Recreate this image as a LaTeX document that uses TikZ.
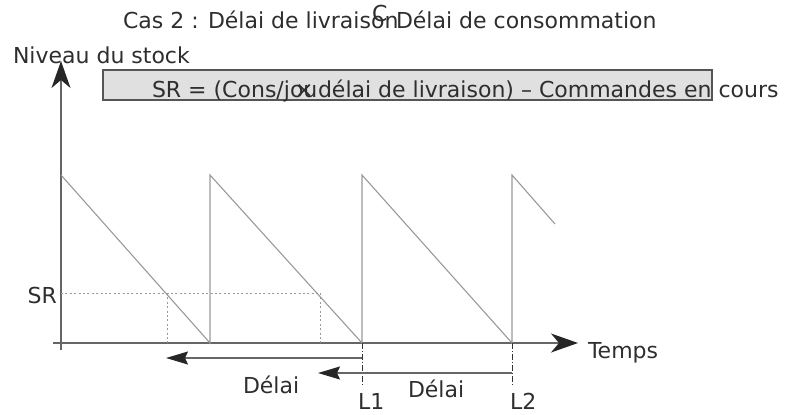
\documentclass[tikz,border=0pt]{standalone}
\usepackage{fontspec}
\setmainfont{DejaVu Sans}
\usetikzlibrary{arrows.meta}
\definecolor{txt}{HTML}{2E2E2E}
\definecolor{axis}{HTML}{666666}
\definecolor{saw}{HTML}{999999}
\definecolor{boxfill}{HTML}{E0E0E0}
\definecolor{boxline}{HTML}{555555}
\begin{document}
\begin{tikzpicture}[x=0.5pt,y=-0.5pt,
  every node/.style={inner sep=0pt,outer sep=0pt,text=txt,font=\fontsize{11}{13}\selectfont},
  lbl/.style={anchor=base west},
  axisline/.style={draw=axis,line width=0.75pt,-{Stealth[length=13.5pt,width=9.5pt,inset=4pt,fill=black!85,color=black!85]}},
  sawline/.style={draw=saw,line width=0.55pt},
  guide/.style={draw=saw,line width=0.5pt,dash pattern=on 1pt off 1.2pt},
  delaiarrow/.style={draw=axis,line width=0.75pt,-{Stealth[length=11pt,width=6.5pt,inset=1.5pt,fill=black!85,color=black!85]}},
  mark line/.style={draw=black!80,line width=0.5pt,dash pattern=on 3pt off 1pt on 0.5pt off 1pt}]
\useasboundingbox (0,0) rectangle (787,414);
% title
\node[lbl] (t1) at (123,28) {Cas 2 : Délai de livraison};
\node[lbl] (t2) at (396,28) {Délai de consommation};
\node[lbl] (t3) at (372,21) {C};
% y-axis label
\node[lbl] (ylab) at (13,63) {Niveau du stock};
% formula box
\node[draw=boxline,fill=boxfill,line width=1pt,minimum width=304.5pt,minimum height=15pt,anchor=north west] (box) at (103,70) {};
\node[lbl] (f1) at (152,97) {SR = (Cons/jou};
\node[lbl] (f2) at (318,97) {délai de livraison) – Commandes en cours};
\node[lbl] (fx) at (295,97) {×};
% axes
\coordinate (ybot) at (61,350);
\coordinate (ytop) at (61,61);
\coordinate (xl) at (53,343);
\coordinate (xr) at (578,343);
\draw[axisline] (ybot) -- (ytop);
\draw[axisline] (xl) -- (xr);
\node[lbl] (temps) at (588,358) {Temps};
% sawtooth
\coordinate (p0) at (61,175);
\coordinate (b1) at (210,343);
\coordinate (p1) at (210,175);
\coordinate (b2) at (362,343);
\coordinate (p2) at (362,175);
\coordinate (b3) at (512,343);
\coordinate (p3) at (512,175);
\coordinate (pe) at (555,224);
\draw[sawline] (p0) -- (b1) -- (p1) -- (b2) -- (p2) -- (b3) -- (p3) -- (pe);
% SR level
\node[anchor=base east] (sr) at (57,303) {SR};
\coordinate (s0) at (61,293);
\coordinate (s1) at (167,293);
\coordinate (s2) at (320,293);
\coordinate (s1b) at (167,343);
\coordinate (s2b) at (320,343);
\draw[guide] (s0) -- (s2);
\draw[guide] (s1) -- (s1b);
\draw[guide] (s2) -- (s2b);
% L1, L2 markers
\coordinate (m1) at (362,386);
\coordinate (m2) at (512,386);
\draw[mark line] (b2) -- (m1);
\draw[mark line] (b3) -- (m2);
\node[lbl] (l1) at (358,409) {L1};
\node[lbl] (l2) at (510,409) {L2};
% delay arrows
\coordinate (a1s) at (362,358);
\coordinate (a1e) at (166,358);
\coordinate (a2s) at (512,373);
\coordinate (a2e) at (318,373);
\draw[delaiarrow] (a1s) -- (a1e);
\draw[delaiarrow] (a2s) -- (a2e);
\node[lbl] (d1) at (243,393) {Délai};
\node[lbl] (d2) at (408,397) {Délai};
\end{tikzpicture}
\end{document}
